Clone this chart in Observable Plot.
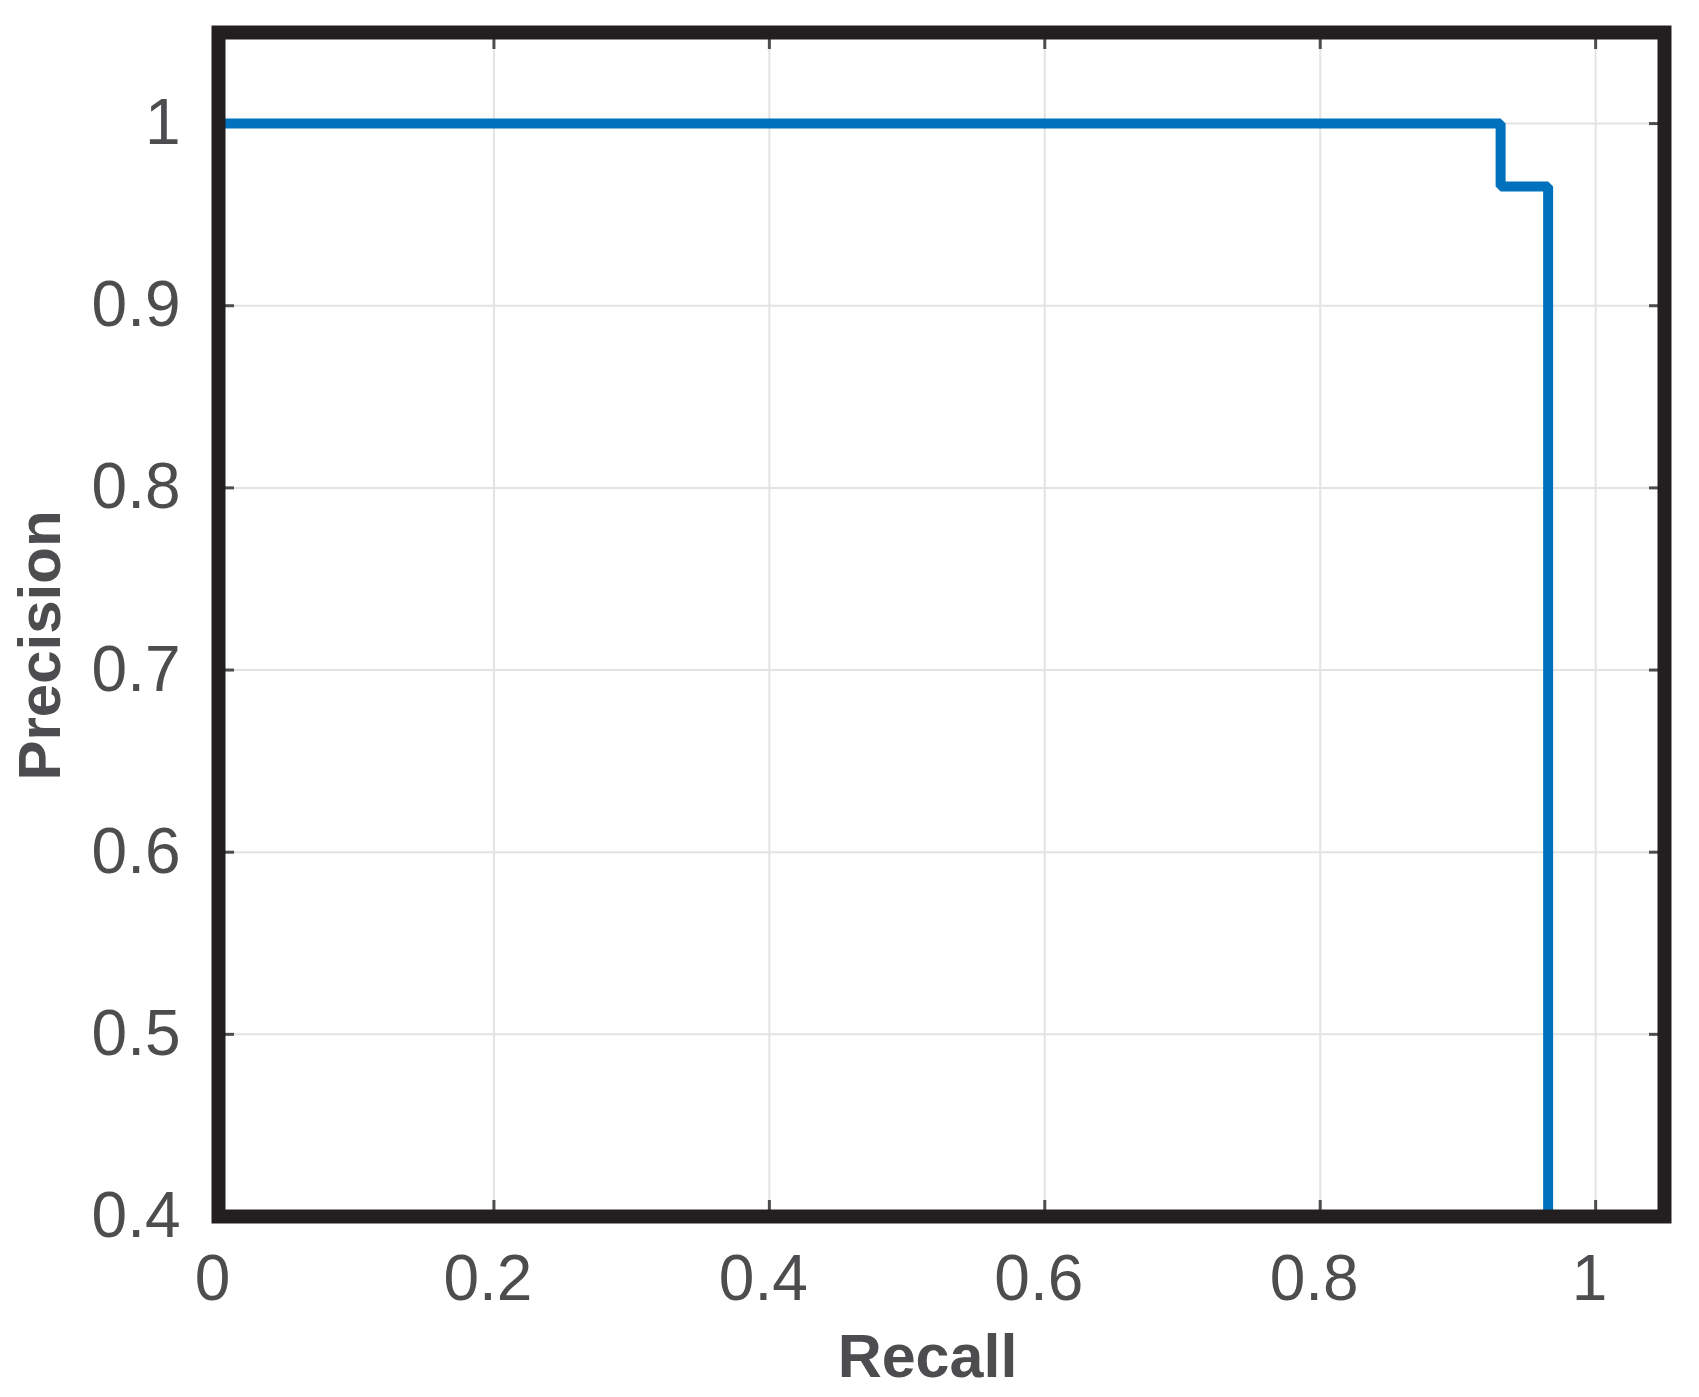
<!DOCTYPE html>
<html>
<head>
<meta charset="utf-8">
<script src="https://cdn.jsdelivr.net/npm/d3@7"></script>
<script src="https://cdn.jsdelivr.net/npm/@observablehq/plot@0.6"></script>
<style>
  html, body { margin: 0; padding: 0; background: #ffffff; }
  #chart svg { display: block; }
</style>
</head>
<body>
<div id="chart"></div>
<script>
// Precision-recall curve vertices (step)
const recall    = [0, 0.931, 0.931, 0.9655, 0.9655];
const precision = [1, 1, 0.9655, 0.9655, 0.4];

const xTicks = [0, 0.2, 0.4, 0.6, 0.8, 1];
const xTickLabels = ["0", "0.2", "0.4", "0.6", "0.8", "1"];
const yTicks = [0.4, 0.5, 0.6, 0.7, 0.8, 0.9, 1];
const yTickLabels = ["0.4", "0.5", "0.6", "0.7", "0.8", "0.9", "1"];

const xLabel = "Recall";
const yLabel = "Precision";

const curve = recall.map((r, i) => ({recall: r, precision: precision[i]}));
const xFmt = v => xTickLabels[xTicks.indexOf(v)];
const yFmt = v => yTickLabels[yTicks.indexOf(v)];

const textColor = "#4d4d4f";
const tickColor = "#4d4d4d";

const chart = Plot.plot({
  width: 1699,
  height: 1397,
  marginLeft: 218,
  marginRight: 35,
  marginTop: 32,
  marginBottom: 181,
  style: {fontFamily: "'Liberation Sans', Arial, sans-serif", background: "#ffffff"},
  x: {domain: [0, 1.05]},
  y: {domain: [0.4, 1.05]},
  marks: [
    Plot.ruleX(xTicks, {stroke: "#e3e3e3", strokeWidth: 2}),
    Plot.ruleY(yTicks, {stroke: "#e3e3e3", strokeWidth: 2}),
    // inward ticks on all four sides
    Plot.axisX(xTicks, {anchor: "bottom", tickSize: -16, fill: "none", stroke: tickColor, strokeWidth: 3, label: null}),
    Plot.axisX(xTicks, {anchor: "top", tickSize: -16, fill: "none", stroke: tickColor, strokeWidth: 3, label: null}),
    Plot.axisY(yTicks, {anchor: "left", tickSize: -16, fill: "none", stroke: tickColor, strokeWidth: 3, label: null}),
    Plot.axisY(yTicks, {anchor: "right", tickSize: -16, fill: "none", stroke: tickColor, strokeWidth: 3, label: null}),
    // tick labels
    Plot.axisX(xTicks, {anchor: "bottom", tickSize: 0, tickPadding: 38, dx: -6, tickFormat: xFmt, fontSize: 64, fill: textColor, label: null}),
    Plot.axisY(yTicks, {anchor: "left", tickSize: 0, tickPadding: 38, tickFormat: yFmt, fontSize: 64, fill: textColor, label: null}),
    // curve
    Plot.line(curve, {x: "recall", y: "precision", stroke: "#0072BD", strokeWidth: 10, strokeLinejoin: "miter", strokeLinecap: "butt"}),
    // axis titles
    Plot.text([xLabel], {frameAnchor: "bottom", text: d => d, dx: -14, dy: 141, lineAnchor: "middle", textAnchor: "middle", fontSize: 61, fontWeight: "bold", fill: textColor}),
    Plot.text([yLabel], {frameAnchor: "left", text: d => d, rotate: -90, dx: -178, dy: 21, lineAnchor: "middle", textAnchor: "middle", fontSize: 60, fontWeight: "bold", fill: textColor}),
    Plot.frame({stroke: "#231f20", strokeWidth: 14})
  ]
});
document.getElementById("chart").appendChild(chart);
</script>
</body>
</html>
